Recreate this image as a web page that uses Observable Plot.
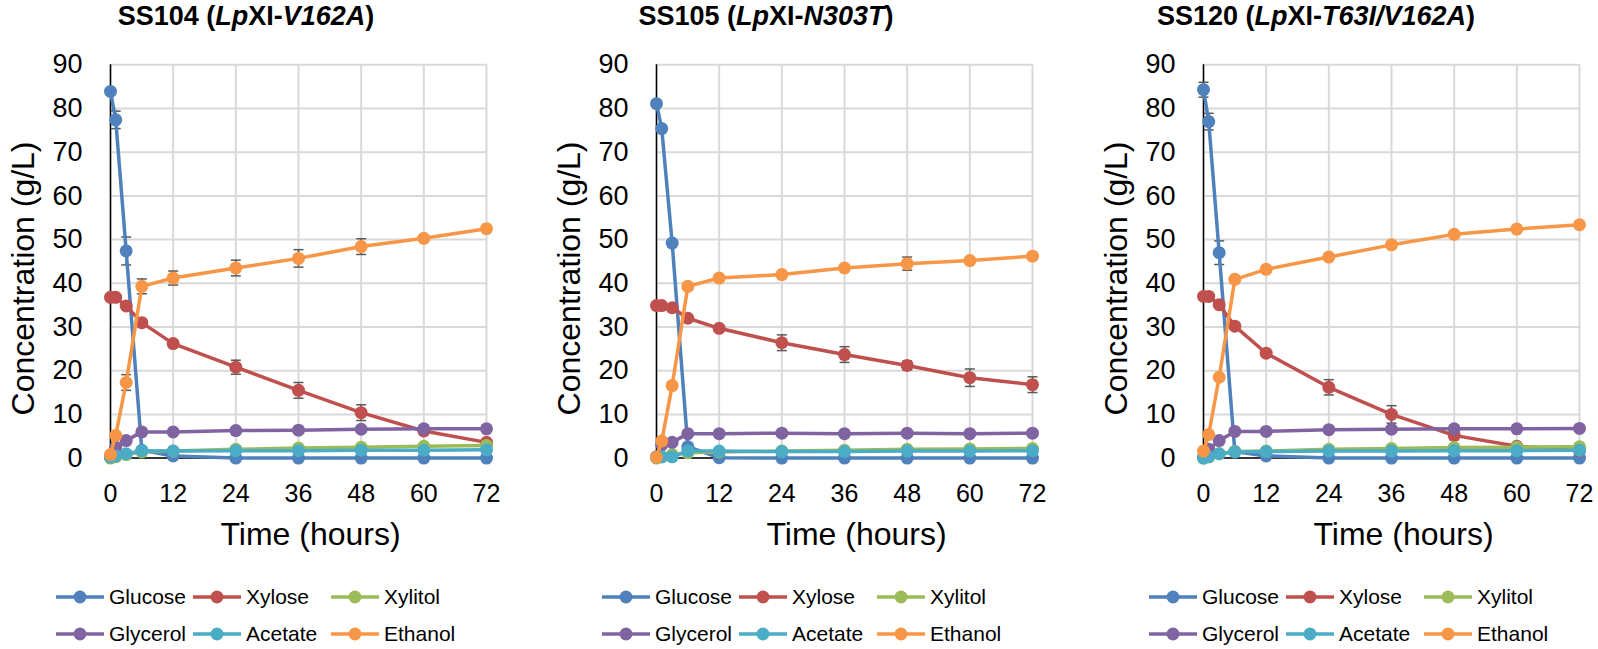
<!DOCTYPE html>
<html><head><meta charset="utf-8">
<script src="https://cdn.jsdelivr.net/npm/d3@7"></script>
<script src="https://cdn.jsdelivr.net/npm/@observablehq/plot@0.6"></script>
<style>
body{margin:0;background:#fff;font-family:"Liberation Sans",Arial,sans-serif;}
#root{position:relative;width:1598px;height:649px;overflow:hidden;background:#fff;}
.title{position:absolute;top:3px;font-weight:bold;font-size:27px;line-height:27px;white-space:nowrap;transform:translateX(-50%);color:#000;}
.plot{position:absolute;top:40px;}
.litem{position:absolute;display:flex;align-items:center;font-size:21px;color:#000;white-space:nowrap;height:24px;}
.litem svg{margin-right:5px;}
</style></head><body><div id="root"></div>
<script>
// ---------- data ----------
const times = [0, 1, 3, 6, 12, 24, 36, 48, 60, 72];
const seriesNames = ["Glucose", "Xylose", "Xylitol", "Glycerol", "Acetate", "Ethanol"];
const seriesColors = ["#4F81BD", "#C0504D", "#9BBB59", "#8064A2", "#4BACC6", "#F79646"];
const xTicks = [0, 12, 24, 36, 48, 60, 72];
const yTicks = [0, 10, 20, 30, 40, 50, 60, 70, 80, 90];

const titles = [
  [["SS104 (", false], ["Lp", true], ["XI-", false], ["V162A", true], [")", false]],
  [["SS105 (", false], ["Lp", true], ["XI-", false], ["N303T", true], [")", false]],
  [["SS120 (", false], ["Lp", true], ["XI-", false], ["T63I/V162A", true], [")", false]]
];

// SS104
const glucose1  = [83.9, 77.4, 47.4, 1.8, 0.5, 0, 0, 0, 0, 0];
const xylose1   = [36.8, 36.8, 34.8, 31.0, 26.2, 20.8, 15.5, 10.4, 6.2, 3.6];
const xylitol1  = [0, 0.3, 0.8, 1.4, 1.6, 2.0, 2.3, 2.5, 2.7, 2.9];
const glycerol1 = [0.4, 2.5, 4.0, 6.0, 6.0, 6.3, 6.4, 6.6, 6.7, 6.7];
const acetate1  = [0.2, 0.5, 1.0, 1.7, 1.6, 1.7, 1.7, 1.8, 1.8, 1.9];
const ethanol1  = [0.8, 5.2, 17.3, 39.3, 41.2, 43.5, 45.7, 48.4, 50.3, 52.5];
const glucoseSd1 = [0.5, 2.0, 3.2, 0.3, 0, 0, 0, 0, 0, 0];
const xyloseSd1  = [0.3, 0.3, 0.5, 0.6, 0.8, 1.6, 1.8, 1.8, 0.8, 0.5];
const ethanolSd1 = [0.2, 0.5, 1.8, 1.7, 1.6, 1.8, 2.0, 1.8, 0.6, 0.4];

// SS105
const glucose2  = [81.1, 75.4, 49.2, 2.6, 0.1, 0, 0, 0, 0, 0];
const xylose2   = [34.9, 34.9, 34.4, 32.0, 29.7, 26.4, 23.7, 21.2, 18.4, 16.8];
const xylitol2  = [0, 0.3, 0.8, 1.2, 1.4, 1.6, 1.8, 2.0, 2.1, 2.2];
const glycerol2 = [0.3, 3.0, 3.6, 5.6, 5.6, 5.7, 5.6, 5.7, 5.6, 5.7];
const acetate2  = [0.2, 0.3, 0.3, 1.6, 1.6, 1.5, 1.5, 1.6, 1.6, 1.7];
const ethanol2  = [0.2, 3.9, 16.6, 39.3, 41.2, 42.0, 43.5, 44.5, 45.2, 46.2];
const glucoseSd2 = [0.5, 0.5, 0.8, 0.3, 0, 0, 0, 0, 0, 0];
const xyloseSd2  = [0.3, 0.3, 0.3, 0.5, 0.5, 1.8, 1.8, 1.0, 2.0, 1.8];
const ethanolSd2 = [0.1, 0.3, 0.5, 0.8, 0.5, 0.5, 0.6, 1.5, 0.6, 0.6];

// SS120
const glucose3  = [84.3, 77.0, 47.0, 1.5, 0.5, 0, 0, 0, 0, 0];
const xylose3   = [37.0, 37.0, 35.1, 30.2, 24.0, 16.2, 10.0, 5.2, 2.7, 1.7];
const xylitol3  = [0, 0.3, 1.0, 1.5, 1.6, 2.0, 2.2, 2.4, 2.5, 2.6];
const glycerol3 = [0.3, 2.0, 4.0, 6.1, 6.1, 6.5, 6.6, 6.7, 6.7, 6.8];
const acetate3  = [0, 0.3, 1.0, 1.4, 1.5, 1.6, 1.6, 1.7, 1.7, 1.8];
const ethanol3  = [1.6, 5.4, 18.5, 40.9, 43.2, 46.0, 48.8, 51.2, 52.4, 53.4];
const glucoseSd3 = [1.7, 1.9, 2.7, 0.3, 0, 0, 0, 0, 0, 0];
const xyloseSd3  = [0.3, 0.3, 0.5, 0.5, 0.6, 1.75, 2.0, 1.0, 0.5, 0.3];
const ethanolSd3 = [0.3, 0.5, 0.6, 0.8, 0.5, 0.7, 0.5, 0.5, 0.5, 0.5];

const panels = [
  {vals: [glucose1, xylose1, xylitol1, glycerol1, acetate1, ethanol1], sds: [glucoseSd1, xyloseSd1, null, null, null, ethanolSd1]},
  {vals: [glucose2, xylose2, xylitol2, glycerol2, acetate2, ethanol2], sds: [glucoseSd2, xyloseSd2, null, null, null, ethanolSd2]},
  {vals: [glucose3, xylose3, xylitol3, glycerol3, acetate3, ethanol3], sds: [glucoseSd3, xyloseSd3, null, null, null, ethanolSd3]}
];

// ---------- layout ----------
const svgLeft = [0, 546, 1093];
const svgWidth = [540, 540, 505];
const titleCenter = [246, 766, 1316];
const FONT = "'Liberation Sans', Arial, sans-serif";
const capSymbol = {draw(ctx) { ctx.moveTo(-5, 0); ctx.lineTo(5, 0); }};
const root = document.getElementById("root");

panels.forEach((p, pi) => {
  const rows = [];
  seriesNames.forEach((s, si) => times.forEach((t, ti) => {
    rows.push({t, s, v: p.vals[si][ti], sd: p.sds[si] ? p.sds[si][ti] : 0});
  }));
  const err = rows.filter(d => d.sd > 0).map(d => ({...d, lo: Math.max(0, d.v - d.sd), hi: d.v + d.sd}));
  const W = svgWidth[pi];
  const marks = [
    Plot.gridX(xTicks, {stroke: "#d9d9d9", strokeOpacity: 1, strokeWidth: 2}),
    Plot.gridY(yTicks, {stroke: "#d9d9d9", strokeOpacity: 1, strokeWidth: 2}),
    Plot.ruleX([0], {stroke: "#000", strokeWidth: 1.5}),
    Plot.ruleY([0], {stroke: "#000", strokeWidth: 1.5}),
    Plot.axisX(xTicks, {tickSize: 0, tickPadding: 26, fontSize: 25, label: null, fill: "#000"}),
    Plot.axisY(yTicks, {tickSize: 0, tickPadding: 28, fontSize: 27, label: null, fill: "#000"}),
    Plot.text(["Time (hours)"], {text: d => d, frameAnchor: "bottom", textAnchor: "middle", lineAnchor: "bottom", dy: 86.4, dx: 12, fontSize: 32, fill: "#000"}),
    Plot.text(["Concentration (g/L)"], {text: d => d, frameAnchor: "left", textAnchor: "middle", lineAnchor: "middle", rotate: -90, dx: -87, dy: 17, fontSize: 32, fill: "#000"}),
    Plot.ruleX(err, {x: "t", y1: "lo", y2: "hi", stroke: "#595959", strokeWidth: 1.5}),
    Plot.dot(err, {x: "t", y: "lo", symbol: capSymbol, stroke: "#595959", strokeWidth: 1.5, fill: "none"}),
    Plot.dot(err, {x: "t", y: "hi", symbol: capSymbol, stroke: "#595959", strokeWidth: 1.5, fill: "none"})
  ];
  seriesNames.forEach((s, si) => {
    const d = rows.filter(r => r.s === s);
    marks.push(Plot.line(d, {x: "t", y: "v", stroke: seriesColors[si], strokeWidth: 3.5}));
    marks.push(Plot.dot(d, {x: "t", y: "v", fill: seriesColors[si], r: 6.5}));
  });
  const svg = Plot.plot({
    width: W, height: 520,
    marginTop: 24.3, marginBottom: 102.4, marginLeft: 110, marginRight: W - 486,
    x: {domain: [0, 72]}, y: {domain: [0, 90]},
    style: {fontFamily: FONT, background: "transparent", overflow: "visible"},
    marks
  });
  const wrap = document.createElement("div");
  wrap.className = "plot";
  wrap.style.left = svgLeft[pi] + "px";
  wrap.appendChild(svg);
  root.appendChild(wrap);

  // title
  const tt = document.createElement("div");
  tt.className = "title";
  tt.style.left = titleCenter[pi] + "px";
  titles[pi].forEach(([txt, it]) => {
    const sp = document.createElement("span");
    sp.textContent = txt;
    if (it) sp.style.fontStyle = "italic";
    tt.appendChild(sp);
  });
  root.appendChild(tt);

  // legend
  const x0 = svgLeft[pi] + 110;
  const colOff = [-54, 83, 221];
  const rowY = [597, 634];
  seriesNames.forEach((s, si) => {
    const item = document.createElement("div");
    item.className = "litem";
    item.style.left = (x0 + colOff[si % 3]) + "px";
    item.style.top = (rowY[Math.floor(si / 3)] - 12) + "px";
    item.innerHTML = `<svg width="48" height="16"><line x1="0" y1="8" x2="48" y2="8" stroke="${seriesColors[si]}" stroke-width="3.5"/><circle cx="24" cy="8" r="6.5" fill="${seriesColors[si]}"/></svg>`;
    const lab = document.createElement("span");
    lab.textContent = s;
    item.appendChild(lab);
    root.appendChild(item);
  });
});
</script></body></html>
